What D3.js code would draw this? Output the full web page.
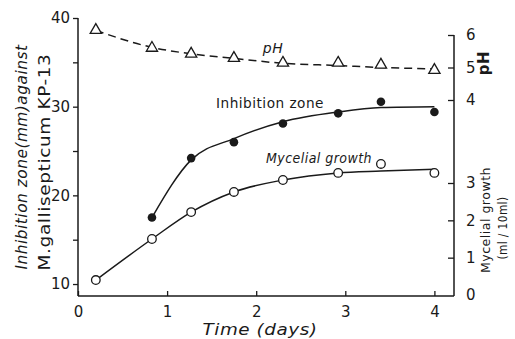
<!DOCTYPE html>
<html>
<head>
<meta charset="utf-8">
<script src="https://cdn.jsdelivr.net/npm/d3@7"></script>
<style>
  html, body { margin: 0; padding: 0; background: #fff; }
  svg { display: block; font-family: "DejaVu Sans", sans-serif; }
  text { fill: #1a1a1a; }
</style>
</head>
<body>
<svg id="chart" width="515" height="339"></svg>
<script>
// ---- Data ----
const times = [0.2, 0.83, 1.27, 1.75, 2.3, 2.92, 3.4, 4.0];

// pH (triangles, right axis upper scale)
const phValues = [6.15, 5.6, 5.42, 5.29, 5.14, 5.14, 5.08, 4.92];
const phFit    = [6.14, 5.62, 5.42, 5.28, 5.13, 5.06, 5.0, 4.96];

// Inhibition zone (mm) (filled circles, left axis)
const inhTimes  = [0.83, 1.27, 1.75, 2.3, 2.92, 3.4, 4.0];
const inhValues = [17.5, 24.2, 26.0, 28.1, 29.25, 30.55, 29.4];
const inhFit    = [17.5, 24.0, 26.4, 28.3, 29.4, 29.9, 30.0];

// Mycelial growth (ml/10ml) (open circles, right axis lower scale)
const mycValues = [0.4, 1.5, 2.22, 2.76, 3.08, 3.27, 3.51, 3.27];
const mycFit    = [0.4, 1.5, 2.22, 2.76, 3.08, 3.27, 3.32, 3.37];

const xTicks    = [0, 1, 2, 3, 4];
const leftTicks = [10, 15, 20, 25, 30, 35, 40];
const leftLabels = [10, 20, 30, 40];
const phTicks   = [4, 5, 6];
const mycTicks  = [0, 1, 2, 3];

// ---- Scales ----
const svg = d3.select("#chart");
const x = d3.scaleLinear().domain([0, 4.22]).range([78, 454]);
const yL = d3.scaleLinear().domain([8.65, 40]).range([296, 18]);
const yPH = d3.scaleLinear().domain([4, 6]).range([100, 35]);
const yM = d3.scaleLinear().domain([0, 3]).range([295, 183]);

const ink = "#1a1a1a";
const g = svg.append("g");

// ---- Axes ----
const bottomAxis = d3.axisBottom(x).tickValues(xTicks).tickSize(-5).tickPadding(10)
  .tickFormat(d3.format("d"));
const gx = g.append("g").attr("transform", "translate(0,296)").call(bottomAxis);

const leftAxis = d3.axisLeft(yL).tickValues(leftTicks).tickSize(5).tickPadding(3)
  .tickFormat(d => leftLabels.includes(d) ? d : "");
const gy = g.append("g").attr("transform", "translate(78,0)").call(leftAxis);

const phAxis = d3.axisRight(yPH).tickValues(phTicks).tickSize(-6).tickPadding(12)
  .tickFormat(d3.format("d"));
const gph = g.append("g").attr("transform", "translate(454,0)").call(phAxis);

const mAxis = d3.axisRight(yM).tickValues(mycTicks).tickSize(-6).tickPadding(12)
  .tickFormat(d3.format("d"));
const gm = g.append("g").attr("transform", "translate(454,0)").call(mAxis);

[gx, gy, gph, gm].forEach(a => {
  a.selectAll(".domain").remove();
  a.selectAll("line").attr("stroke", ink).attr("stroke-width", 1.3);
  a.selectAll("text").attr("font-size", 15).style("fill", ink)
    .attr("font-family", "DejaVu Sans, sans-serif");
});
gm.selectAll(".tick").filter(d => d === 0).select("line").remove();

// axis lines
g.append("line").attr("x1", x(0)).attr("x2", x(4.22)).attr("y1", 296).attr("y2", 296)
  .attr("stroke", ink).attr("stroke-width", 1.5);
g.append("line").attr("x1", 78).attr("x2", 78).attr("y1", yL(40)).attr("y2", 296)
  .attr("stroke", ink).attr("stroke-width", 1.5);
g.append("line").attr("x1", 454).attr("x2", 454).attr("y1", yPH(6)).attr("y2", 296)
  .attr("stroke", ink).attr("stroke-width", 1.5);

// ---- Curves ----
const phLine = d3.line().x((d, i) => x(times[i])).y(d => yPH(d)).curve(d3.curveMonotoneX);
g.append("path").datum(phFit).attr("d", phLine).attr("fill", "none")
  .attr("stroke", ink).attr("stroke-width", 1.5).attr("stroke-dasharray", "8,5");

const inhLine = d3.line().x((d, i) => x(inhTimes[i])).y(d => yL(d)).curve(d3.curveMonotoneX);
g.append("path").datum(inhFit).attr("d", inhLine).attr("fill", "none")
  .attr("stroke", ink).attr("stroke-width", 1.5);

const mLine = d3.line().x((d, i) => x(times[i])).y(d => yM(d)).curve(d3.curveMonotoneX);
g.append("path").datum(mycFit).attr("d", mLine).attr("fill", "none")
  .attr("stroke", ink).attr("stroke-width", 1.5);

// ---- Markers ----
const tri = d3.symbol().type(d3.symbolTriangle).size(55);
g.selectAll(".tri").data(phValues).join("path")
  .attr("transform", (d, i) => `translate(${x(times[i])},${yPH(d)})`)
  .attr("d", tri).attr("fill", "#fff").attr("stroke", ink).attr("stroke-width", 1.3);

g.selectAll(".inh").data(inhValues).join("circle")
  .attr("cx", (d, i) => x(inhTimes[i])).attr("cy", d => yL(d)).attr("r", 4.3)
  .attr("fill", ink);

g.selectAll(".myc").data(mycValues).join("circle")
  .attr("cx", (d, i) => x(times[i])).attr("cy", d => yM(d)).attr("r", 4.3)
  .attr("fill", "#fff").attr("stroke", ink).attr("stroke-width", 1.3);

// ---- Labels ----
function label(txt, px, py, opts = {}) {
  const t = g.append("text").attr("x", px).attr("y", py).text(txt)
    .attr("font-size", opts.size || 14)
    .attr("text-anchor", opts.anchor || "middle")
    .style("font-style", opts.italic ? "italic" : "normal")
    .style("font-weight", opts.bold ? "bold" : "normal")
    .style("letter-spacing", opts.ls || "0.5px");
  if (opts.rotate) t.attr("transform", `rotate(${opts.rotate},${px},${py})`);
  if (opts.len) t.attr("textLength", opts.len).attr("lengthAdjust", "spacingAndGlyphs");
  return t;
}

label("pH", 273, 53, { italic: true, size: 14 });
label("Inhibition zone", 270, 108, { size: 14, len: 108 });
label("Mycelial growth", 319, 163, { italic: true, size: 14, len: 106 });

label("Time  (days)", 260, 335, { italic: true, size: 16, len: 115 });

label("Inhibition zone(mm)against", 27, 157, { italic: true, size: 15, rotate: -90, len: 225 });
label("M.gallisepticum KP-13", 50, 162, { size: 15, rotate: -90, len: 217 });

label("pH", 489, 63, { bold: true, size: 15, rotate: -90 });
label("Mycelial growth", 490, 220, { size: 13, rotate: -90, len: 106 });
label("(ml / 10ml)", 507, 228, { size: 13, rotate: -90, len: 63 });
</script>
</body>
</html>
